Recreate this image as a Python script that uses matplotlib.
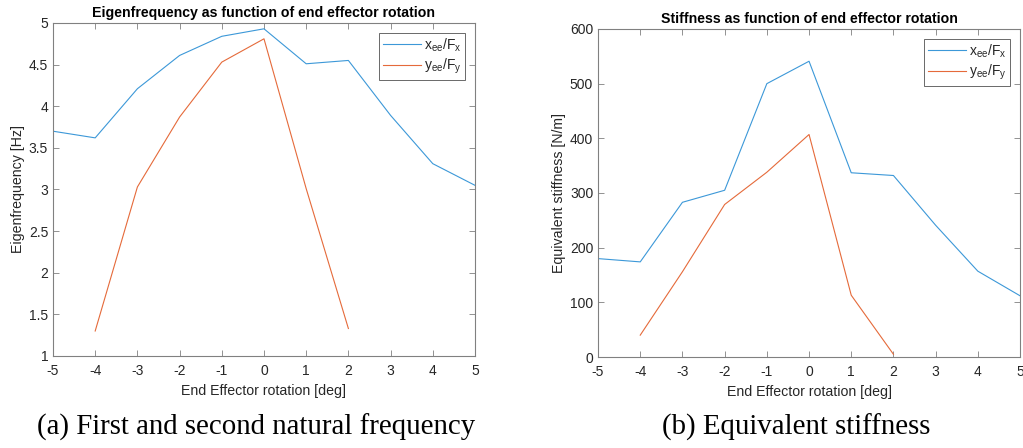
import matplotlib.pyplot as plt

# End effector rotation [deg]
rot_x = [-5, -4, -3, -2, -1, 0, 1, 2, 3, 4, 5]
rot_y = [-4, -3, -2, -1, 0, 1, 2]

# Eigenfrequency [Hz]
freq_x = [3.70, 3.62, 4.21, 4.61, 4.84, 4.93, 4.51, 4.55, 3.89, 3.31, 3.05]
freq_y = [1.30, 3.03, 3.87, 4.53, 4.81, 3.01, 1.33]

# Equivalent stiffness [N/m]
stiff_x = [180, 174, 283, 305, 500, 541, 337, 332, 241, 157, 112]
stiff_y = [40, 156, 279, 338, 407, 113, 5]

labels = [r'x$_{ee}$/F$_x$', r'y$_{ee}$/F$_y$']
BLUE = '#3C98D8'
ORANGE = '#E56A3A'
GREY = '#262626'

plt.rcParams['font.family'] = ['Liberation Sans', 'DejaVu Sans']
plt.rcParams['mathtext.fontset'] = 'custom'
plt.rcParams['mathtext.rm'] = 'Liberation Sans'
plt.rcParams['mathtext.it'] = 'Liberation Sans'
plt.rcParams['axes.unicode_minus'] = False

fig = plt.figure(figsize=(10.23, 4.48), dpi=100)
ax1 = fig.add_axes([0.0518, 0.2054, 0.4125, 0.7433])
ax2 = fig.add_axes([0.5846, 0.2031, 0.4125, 0.7322])


def style(ax):
    for s in ax.spines.values():
        s.set_color('#808080')
        s.set_linewidth(0.8)
    ax.tick_params(direction='in', top=True, right=True, labelsize=10,
                   labelcolor=GREY, color='#808080', length=4, width=0.6)
    ax.tick_params(axis='x', pad=6)
    ax.set_xlim(-5, 5)
    ax.set_xticks(range(-5, 6))
    ax.set_xlabel('End Effector rotation [deg]', fontsize=10.2, color=GREY, labelpad=4)


ax1.plot(rot_x, freq_x, color=BLUE, lw=0.8, label=labels[0])
ax1.plot(rot_y, freq_y, color=ORANGE, lw=0.8, label=labels[1])
style(ax1)
ax1.set_ylim(1, 5)
ax1.set_yticks([1, 1.5, 2, 2.5, 3, 3.5, 4, 4.5, 5])
ax1.set_yticklabels(['1', '1.5', '2', '2.5', '3', '3.5', '4', '4.5', '5'])
ax1.set_ylabel('Eigenfrequency [Hz]', fontsize=10.2, color=GREY, labelpad=3)
ax1.set_title('Eigenfrequency as function of end effector rotation',
              fontsize=10.2, fontweight='bold', pad=4)

ax2.plot(rot_x, stiff_x, color=BLUE, lw=0.8, label=labels[0])
ax2.plot(rot_y, stiff_y, color=ORANGE, lw=0.8, label=labels[1])
style(ax2)
ax2.set_ylim(0, 600)
ax2.set_yticks(range(0, 601, 100))
ax2.set_ylabel('Equivalent stiffness [N/m]', fontsize=10.2, color=GREY, labelpad=3)
ax2.set_title('Stiffness as function of end effector rotation',
              fontsize=10.2, fontweight='bold', pad=4)

for ax in (ax1, ax2):
    leg = ax.legend(loc='upper right', fontsize=10, frameon=True, fancybox=False,
                    borderaxespad=0.7, handlelength=2.8, handletextpad=0.2,
                    labelspacing=0.25, borderpad=0.25)
    leg.get_frame().set_edgecolor('#262626')
    leg.get_frame().set_linewidth(0.6)
    for t in leg.get_texts():
        t.set_color(GREY)

fig.text(0.25, 0.03, '(a) First and second natural frequency', ha='center',
         fontsize=20.8, family=['Liberation Serif', 'DejaVu Serif'])
fig.text(0.778, 0.03, '(b) Equivalent stiffness', ha='center',
         fontsize=20.8, family=['Liberation Serif', 'DejaVu Serif'])

fig.savefig('out.png', dpi=100)
